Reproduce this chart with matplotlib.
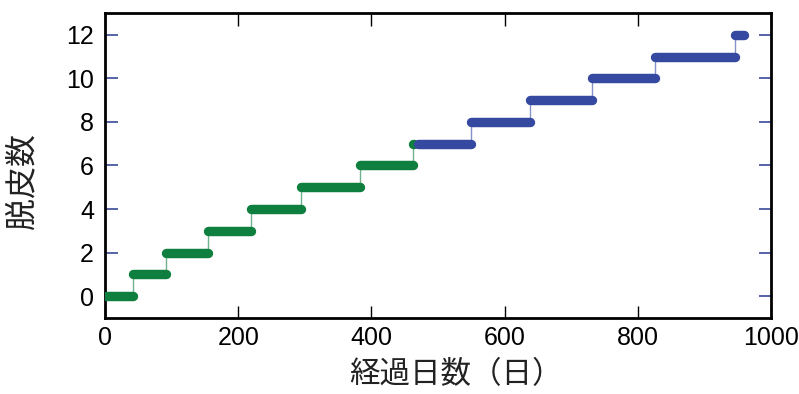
import numpy as np
import matplotlib
matplotlib.use('Agg')
import matplotlib.pyplot as plt

# molting record: day of each molt, first / last observation day
green_first_day = 1
green_molt_days = [42, 92, 154, 219, 295, 383, 463]
green_last_day = 464
green_start_count = 0

blue_first_day = 470
blue_molt_days = [550, 638, 731, 826, 946]
blue_last_day = 960
blue_start_count = 7

xticks = [0, 200, 400, 600, 800, 1000]
yticks = [0, 2, 4, 6, 8, 10, 12]

green = '#0e7f3e'
blue = '#3549a0'


def draw_steps(ax, first, molts, last, count0, color):
    edges = [first] + molts + [last]
    counts = count0 + np.arange(len(edges) - 1)
    # thin risers between levels
    ax.vlines(molts, counts[:-1], counts[1:], colors=color, linewidth=1.0,
              alpha=0.6, zorder=2)
    # thick plateaus
    for x0, x1, c in zip(edges[:-1], edges[1:], counts):
        ax.plot([x0, x1], [c, c], color=color, linewidth=6.8,
                solid_capstyle='round', zorder=3)


fig = plt.figure(figsize=(7.99, 3.94), dpi=100)
ax = fig.add_axes([0.1314, 0.193, 0.8336, 0.774])

draw_steps(ax, green_first_day, green_molt_days, green_last_day,
           green_start_count, green)
draw_steps(ax, blue_first_day, blue_molt_days, blue_last_day,
           blue_start_count, blue)

ax.set_xlim(0, 1000)
ax.set_ylim(-1, 13)
ax.set_xticks(xticks)
ax.set_yticks(yticks)

tick_font = {'family': 'Liberation Sans', 'size': 18}
ax.set_xticklabels([str(t) for t in xticks], fontdict=tick_font)
ax.set_yticklabels([str(t) for t in yticks], fontdict=tick_font)

ax.tick_params(axis='x', direction='in', length=9, width=1.0, color='black',
               top=True, bottom=True, pad=6)
ax.tick_params(axis='y', direction='in', length=9, width=1.2, color='#3a4a9a',
               left=True, right=True, pad=8)
for s in ax.spines.values():
    s.set_linewidth(2.0)

ax.set_xlabel('経過日数（日）', family=['Noto Sans CJK JP', 'DejaVu Sans'],
              fontsize=22, color='#222222')
ax.set_ylabel('脱皮数', family=['Noto Sans CJK JP', 'DejaVu Sans'],
              fontsize=23, color='#222222')
ax.xaxis.set_label_coords(0.527, -0.135)
ax.yaxis.set_label_coords(-0.10, 0.45)

fig.savefig('out.png', dpi=100)
